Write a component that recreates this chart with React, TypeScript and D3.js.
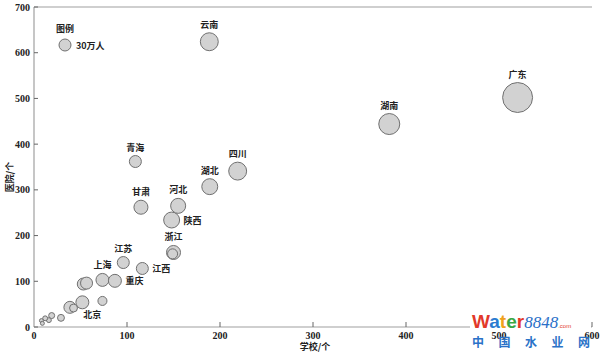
import React from "react";
import * as d3 from "d3";

// Province bubbles: schools (x), hospitals (y), population size (万人)
const names = [
  "广东", "湖南", "云南", "四川", "湖北", "陕西", "河北", "甘肃", "青海",
  "浙江", "", "江苏", "江西", "上海", "重庆", "", "", "北京", "", "", "",
  "", "", "", "", "", "",
];
const schools = [
  520, 382, 188.5, 219, 189, 148, 155, 115, 109,
  150, 149, 96, 116.5, 73.6, 87, 53, 56.5, 52, 73.6, 38.6, 42.5,
  29, 19, 16, 12, 8, 9,
];
const hospitals = [
  502, 444, 624, 341, 307, 234, 265, 262, 362,
  163, 160, 141, 128, 103, 101, 94, 96, 54, 57, 43, 41.5,
  20, 25, 15, 19, 14, 8,
];
const population = [
  187, 92, 67, 67, 53, 53, 47, 41, 30,
  41, 21, 30, 30, 35, 35, 30, 30, 35, 17, 30, 13,
  10, 7.5, 5, 5, 3.3, 3.3,
];

const xTicks = [0, 100, 200, 300, 400, 500, 600];
const yTicks = [0, 100, 200, 300, 400, 500, 600, 700];
const legendValue = 30;
const legendTitle = "图例";
const legendLabel = "30万人";
const xTitle = "学校/个";
const yTitle = "医院/个";
const watermarkChars = ["中", "国", "水", "业", "网"];

// label placement (style config)
const labelPlacement: Record<string, string> = {
  陕西: "right",
  江西: "right",
  重庆: "right",
  北京: "belowRight",
};

const W = 600;
const H = 358;

export default function App() {
  const x = d3.scaleLinear().domain([0, 600]).range([34, 592]);
  const y = d3.scaleLinear().domain([0, 700]).range([327, 7]);
  const r = d3.scaleSqrt().domain([0, 30]).range([0, 6]);

  const data = names.map((n, i) => ({
    name: n,
    sx: schools[i],
    hy: hospitals[i],
    pop: population[i],
  }));

  const cjk = "'Noto Sans CJK SC', sans-serif";
  const serif = "'Liberation Serif', 'DejaVu Serif', serif";
  const axisColor = "#a0a0a0";

  return (
    <svg
      width={W}
      height={H}
      style={{ position: "absolute", left: 0, top: 0, background: "#fff" }}
    >
      <rect x={0} y={0} width={W} height={H} fill="#fff" />
      {/* top frame line */}
      <line x1={x(0)} x2={x(600)} y1={y(700)} y2={y(700)} stroke={axisColor} strokeWidth={1.2} />
      {/* axes */}
      <line x1={x(0)} x2={x(0)} y1={y(0)} y2={y(700)} stroke={axisColor} strokeWidth={1.2} />
      <line x1={x(0)} x2={x(600)} y1={y(0)} y2={y(0)} stroke={axisColor} strokeWidth={1.2} />
      {yTicks.map((t) => (
        <g key={"y" + t}>
          <line x1={x(0)} x2={x(0) + 4} y1={y(t)} y2={y(t)} stroke="#666" strokeWidth={1} />
          <text
            x={x(0) - 4}
            y={y(t)}
            dy="0.35em"
            textAnchor="end"
            fontFamily={serif}
            fontWeight="bold"
            fontSize={10}
            fill="#222"
          >
            {t}
          </text>
        </g>
      ))}
      {xTicks.map((t) => (
        <g key={"x" + t}>
          {t > 0 && (
            <line x1={x(t)} x2={x(t)} y1={y(0)} y2={y(0) - 5} stroke="#666" strokeWidth={1} />
          )}
          <text
            x={x(t)}
            y={y(0) + 12}
            textAnchor="middle"
            fontFamily={serif}
            fontWeight="bold"
            fontSize={10}
            fill="#222"
          >
            {t}
          </text>
        </g>
      ))}
      <text
        x={315}
        y={350}
        textAnchor="middle"
        fontFamily={cjk}
        fontWeight="bold"
        fontSize={9}
        fill="#222"
      >
        {xTitle}
      </text>
      <text
        transform={`translate(13, ${(y(0) + y(700)) / 2 + 10}) rotate(-90)`}
        textAnchor="middle"
        fontFamily={cjk}
        fontWeight="bold"
        fontSize={9}
        fill="#222"
      >
        {yTitle}
      </text>

      {/* bubbles */}
      {data.map((d, i) => (
        <circle
          key={"c" + i}
          cx={x(d.sx)}
          cy={y(d.hy)}
          r={r(d.pop)}
          fill="#d2d2d2"
          stroke="#707070"
          strokeWidth={1}
        />
      ))}
      {data
        .filter((d) => d.name)
        .map((d, i) => {
          const cx = x(d.sx);
          const cy = y(d.hy);
          const rr = r(d.pop);
          const mode = labelPlacement[d.name] || "top";
          let tx = cx;
          let ty = cy - rr - 5;
          let anchor = "middle";
          if (mode === "right") {
            tx = cx + rr + 4;
            ty = cy + 3.5;
            anchor = "start";
          } else if (mode === "belowRight") {
            tx = cx + 10;
            ty = cy + rr + 9;
          }
          return (
            <text
              key={"l" + i}
              x={tx}
              y={ty}
              textAnchor={anchor}
              fontFamily={cjk}
              fontWeight="bold"
              fontSize={9}
              fill="#222"
            >
              {d.name}
            </text>
          );
        })}

      {/* legend */}
      <text
        x={65}
        y={32}
        textAnchor="middle"
        fontFamily={cjk}
        fontWeight="bold"
        fontSize={9}
        fill="#222"
      >
        {legendTitle}
      </text>
      <circle cx={65} cy={45} r={r(legendValue)} fill="#d2d2d2" stroke="#707070" strokeWidth={1} />
      <text
        x={76}
        y={48.5}
        fontFamily={cjk}
        fontWeight="bold"
        fontSize={9}
        fill="#222"
      >
        {legendLabel}
      </text>

      {/* watermark */}
      <rect x={470} y={312} width={121} height={18} fill="#fff" />
      <text x={472} y={328} fontFamily="'Liberation Sans', Arial, sans-serif" fontWeight="bold" fontSize={19}>
        <tspan fill="#e2392a">W</tspan>
        <tspan fill="#2a7bd0">a</tspan>
        <tspan fill="#f0a21c">t</tspan>
        <tspan fill="#3aa843">e</tspan>
        <tspan fill="#e2392a">r</tspan>
        <tspan fill="#2a6fc8" fontFamily="'Liberation Serif', serif" fontStyle="italic" fontWeight="normal" fontSize={17}>8848</tspan>
        <tspan fill="#e2392a" fontSize={6} fontWeight="normal">.com</tspan>
      </text>
      {watermarkChars.map((c, i) => (
        <text
          key={"w" + i}
          x={478 + i * 26.5}
          y={347}
          textAnchor="middle"
          fontFamily={cjk}
          fontWeight="bold"
          fontSize={12}
          fill="#2a72c8"
        >
          {c}
        </text>
      ))}
    </svg>
  );
}
